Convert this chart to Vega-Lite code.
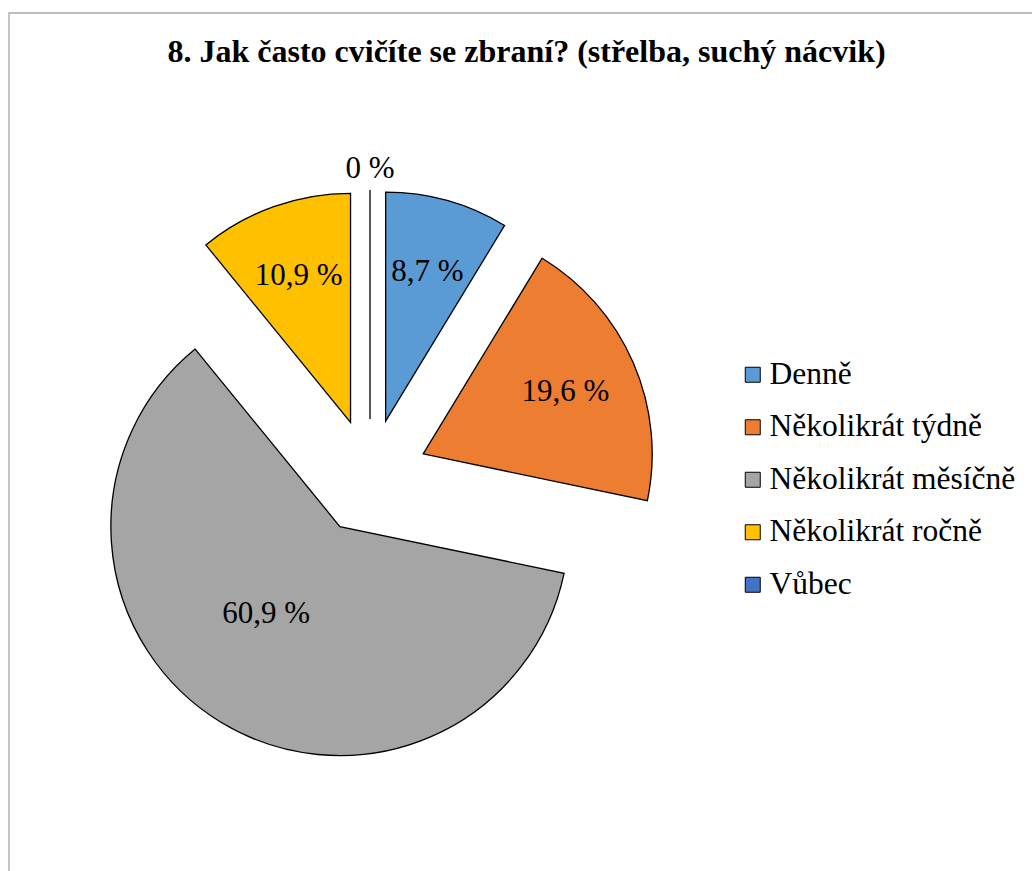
{
  "$schema": "https://vega.github.io/schema/vega-lite/v6.json",
  "width": 1023,
  "height": 858,
  "autosize": "none",
  "padding": {"left": 9, "top": 13, "right": 0, "bottom": 0},
  "background": "white",
  "title": {
    "text": "8. Jak často cvičíte se zbraní? (střelba, suchý nácvik)",
    "font": "Liberation Serif",
    "fontSize": 32,
    "fontWeight": "bold",
    "color": "black",
    "anchor": "middle",
    "offset": -57,
    "dx": 6
  },
  "data": {
    "values": [
      {"kategorie": "Denně", "value": 8.7, "poradi": 1},
      {"kategorie": "Několikrát týdně", "value": 19.6, "poradi": 2},
      {"kategorie": "Několikrát měsíčně", "value": 60.9, "poradi": 3},
      {"kategorie": "Několikrát ročně", "value": 10.9, "poradi": 4},
      {"kategorie": "Vůbec", "value": 0, "poradi": 5}
    ]
  },
  "transform": [
    {"calculate": "datum.value == 0 ? '0 %' : replace(format(datum.value, '.1f'), '.', ',') + ' %'", "as": "label"}
  ],
  "layer": [
    {
      "data": {"values": [{"ramecek": 1}]},
      "transform": [],
      "mark": {
        "type": "rect",
        "x": 0,
        "y": 0,
        "x2": {"expr": "width + 30"},
        "y2": {"expr": "height + 30"},
        "filled": false,
        "stroke": "#a6a6a6",
        "strokeWidth": 1.3
      },
      "encoding": {}
    },
    {
      "mark": {
        "type": "arc",
        "outerRadius": 229,
        "x": 361,
        "y": 464,
        "stroke": "black",
        "strokeWidth": 1.3,
        "xOffset": {"expr": "58*sin(scale('theta',(datum.value_start+datum.value_end)/2))"},
        "yOffset": {"expr": "-58*cos(scale('theta',(datum.value_start+datum.value_end)/2))"}
      },
      "encoding": {
        "theta": {"field": "value", "type": "quantitative", "stack": true},
        "order": {"field": "poradi", "type": "quantitative"},
        "color": {
          "field": "kategorie",
          "type": "nominal",
          "scale": {
            "domain": ["Denně", "Několikrát týdně", "Několikrát měsíčně", "Několikrát ročně", "Vůbec"],
            "range": ["#5B9BD5", "#ED7D31", "#A5A5A5", "#FFC000", "#4472C4"]
          },
          "legend": {
            "orient": "none",
            "legendX": 728,
            "legendY": 346,
            "title": null,
            "symbolType": "square",
            "symbolSize": 225,
            "symbolStrokeColor": "black",
            "symbolStrokeWidth": 1,
            "symbolOpacity": 1,
            "labelFont": "Liberation Serif",
            "labelFontSize": 31.5,
            "labelColor": "black",
            "labelOffset": 1,
            "rowPadding": 19.5,
            "labelLimit": 400
          }
        }
      }
    },
    {
      "mark": {
        "type": "text",
        "font": "Liberation Serif",
        "fontSize": 31,
        "color": "black",
        "align": "center",
        "baseline": "middle",
        "x": 361,
        "y": 464,
        "radius": {"expr": "datum.value == 0 ? 250 : datum.value > 50 ? 115 : 155"},
        "dx": {"expr": "datum.value > 50 ? -14 : 0"},
        "dy": {"expr": "datum.value > 50 ? -11 : 0"},
        "xOffset": {"expr": "58*sin(scale('theta',(datum.value_start+datum.value_end)/2))"},
        "yOffset": {"expr": "-58*cos(scale('theta',(datum.value_start+datum.value_end)/2))"}
      },
      "encoding": {
        "theta": {"field": "value", "type": "quantitative", "stack": true},
        "order": {"field": "poradi", "type": "quantitative"},
        "text": {"field": "label", "type": "nominal"},
        "detail": {"field": "kategorie", "type": "nominal"}
      }
    }
  ],
  "config": {
    "view": {"stroke": null}
  }
}
